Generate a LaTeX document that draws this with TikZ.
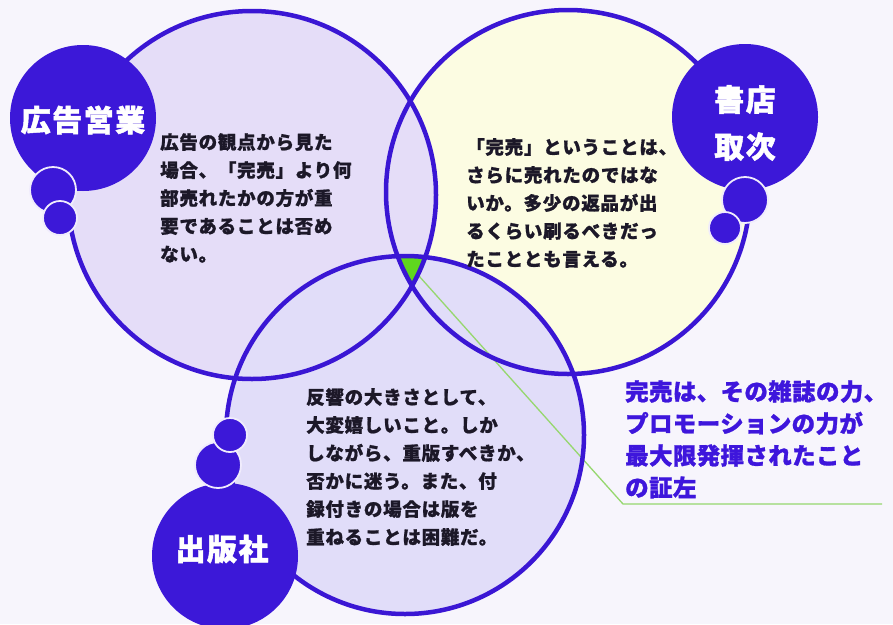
\documentclass[tikz,border=0pt]{standalone}
\usepackage{fontspec}
\setmainfont{Noto Sans CJK JP}
\definecolor{ring}{RGB}{58,22,212}
\definecolor{darkc}{RGB}{60,24,216}
\definecolor{lavL}{RGB}{229,221,248}
\definecolor{lavB}{RGB}{225,221,249}
\definecolor{yel}{RGB}{252,252,226}
\definecolor{bg}{RGB}{247,245,252}
\definecolor{grn}{RGB}{95,215,30}
\definecolor{gline}{RGB}{150,215,110}
\definecolor{callc}{RGB}{62,22,220}
\definecolor{bodyc}{RGB}{28,24,40}
\definecolor{edgew}{RGB}{240,236,252}
\begin{document}
\begin{tikzpicture}[x=1pt,y=-1pt,
  bigdark/.style={circle,fill=darkc,inner sep=0pt,minimum size=146pt},
  smalldark/.style={circle,fill=darkc,draw=edgew,line width=1.8pt,inner sep=0pt},
  lab/.style={text=white,font=\fontsize{30}{47}\selectfont\bfseries\addfontfeature{LetterSpace=5,FakeBold=1.5},align=center,inner sep=0pt},
  bodytext/.style={text=bodyc,font=\fontsize{18.5}{28}\selectfont\bfseries\addfontfeature{LetterSpace=4,FakeBold=1},align=left,inner sep=0pt,anchor=north west},
  calltext/.style={text=callc,font=\fontsize{23.5}{32}\selectfont\bfseries\addfontfeature{LetterSpace=1.5,FakeBold=1},align=left,inner sep=0pt,anchor=north west},
  ringline/.style={draw=ring,line width=4.5pt}]
\fill[bg] (0,0) rectangle (893,624);
\useasboundingbox (0,0) rectangle (893,624);
% big circles fills
\fill[yel] (568,192) circle[radius=182pt];
\fill[lavL] (252,195) circle[radius=184pt];
\fill[lavB] (405,435) circle[radius=179pt];
% triple intersection
\begin{scope}
  \clip (252,195) circle[radius=184pt];
  \clip (568,192) circle[radius=182pt];
  \fill[grn] (405,435) circle[radius=179pt];
\end{scope}
% callout line
\coordinate (gs) at (419,276);
\coordinate (gk) at (623,504);
\coordinate (ge) at (882,504);
\draw[gline,line width=1.3pt] (gs) -- (gk) -- (ge);
% outlines
\draw[ringline] (568,192) circle[radius=182pt];
\draw[ringline] (252,195) circle[radius=184pt];
\draw[ringline] (405,435) circle[radius=179pt];
% dark label circles
\node[bigdark] (A) at (83,118) {};
\node[smalldark,minimum size=46pt] (A1) at (53,190) {};
\node[smalldark,minimum size=34pt] (A2) at (60,218) {};
\node[bigdark] (S) at (745,117) {};
\node[smalldark,minimum size=46pt] (S1) at (745,200) {};
\node[smalldark,minimum size=32pt] (S2) at (725,228) {};
\node[bigdark] (P) at (225,556) {};
\node[smalldark,minimum size=46pt] (P1) at (218,465) {};
\node[smalldark,minimum size=34pt] (P2) at (230,435) {};
% labels
\node[lab] (AL) at (83,120) {広告営業};
\node[lab] (SL) at (745,123) {書店\\取次};
\node[lab] (PL) at (222,549) {出版社};
% body texts
\node[bodytext] (TL) at (160,133) {広告の観点から見た\\場合、「完売」より何\\部売れたかの方が重\\要であることは否め\\ない。};
\node[bodytext] (TR) at (466,138) {「完売」ということは、\\さらに売れたのではな\\いか。多少の返品が出\\るくらい刷るべきだっ\\たこととも言える。};
\node[bodytext] (TB) at (306,388) {反響の大きさとして、\\大変嬉しいこと。しか\\しながら、重版すべきか、\\否かに迷う。また、付\\録付きの場合は版を\\重ねることは困難だ。};
\node[calltext] (TC) at (625,380) {完売は、その雑誌の力、\\プロモーションの力が\\最大限発揮されたこと\\の証左};
\end{tikzpicture}
\end{document}
